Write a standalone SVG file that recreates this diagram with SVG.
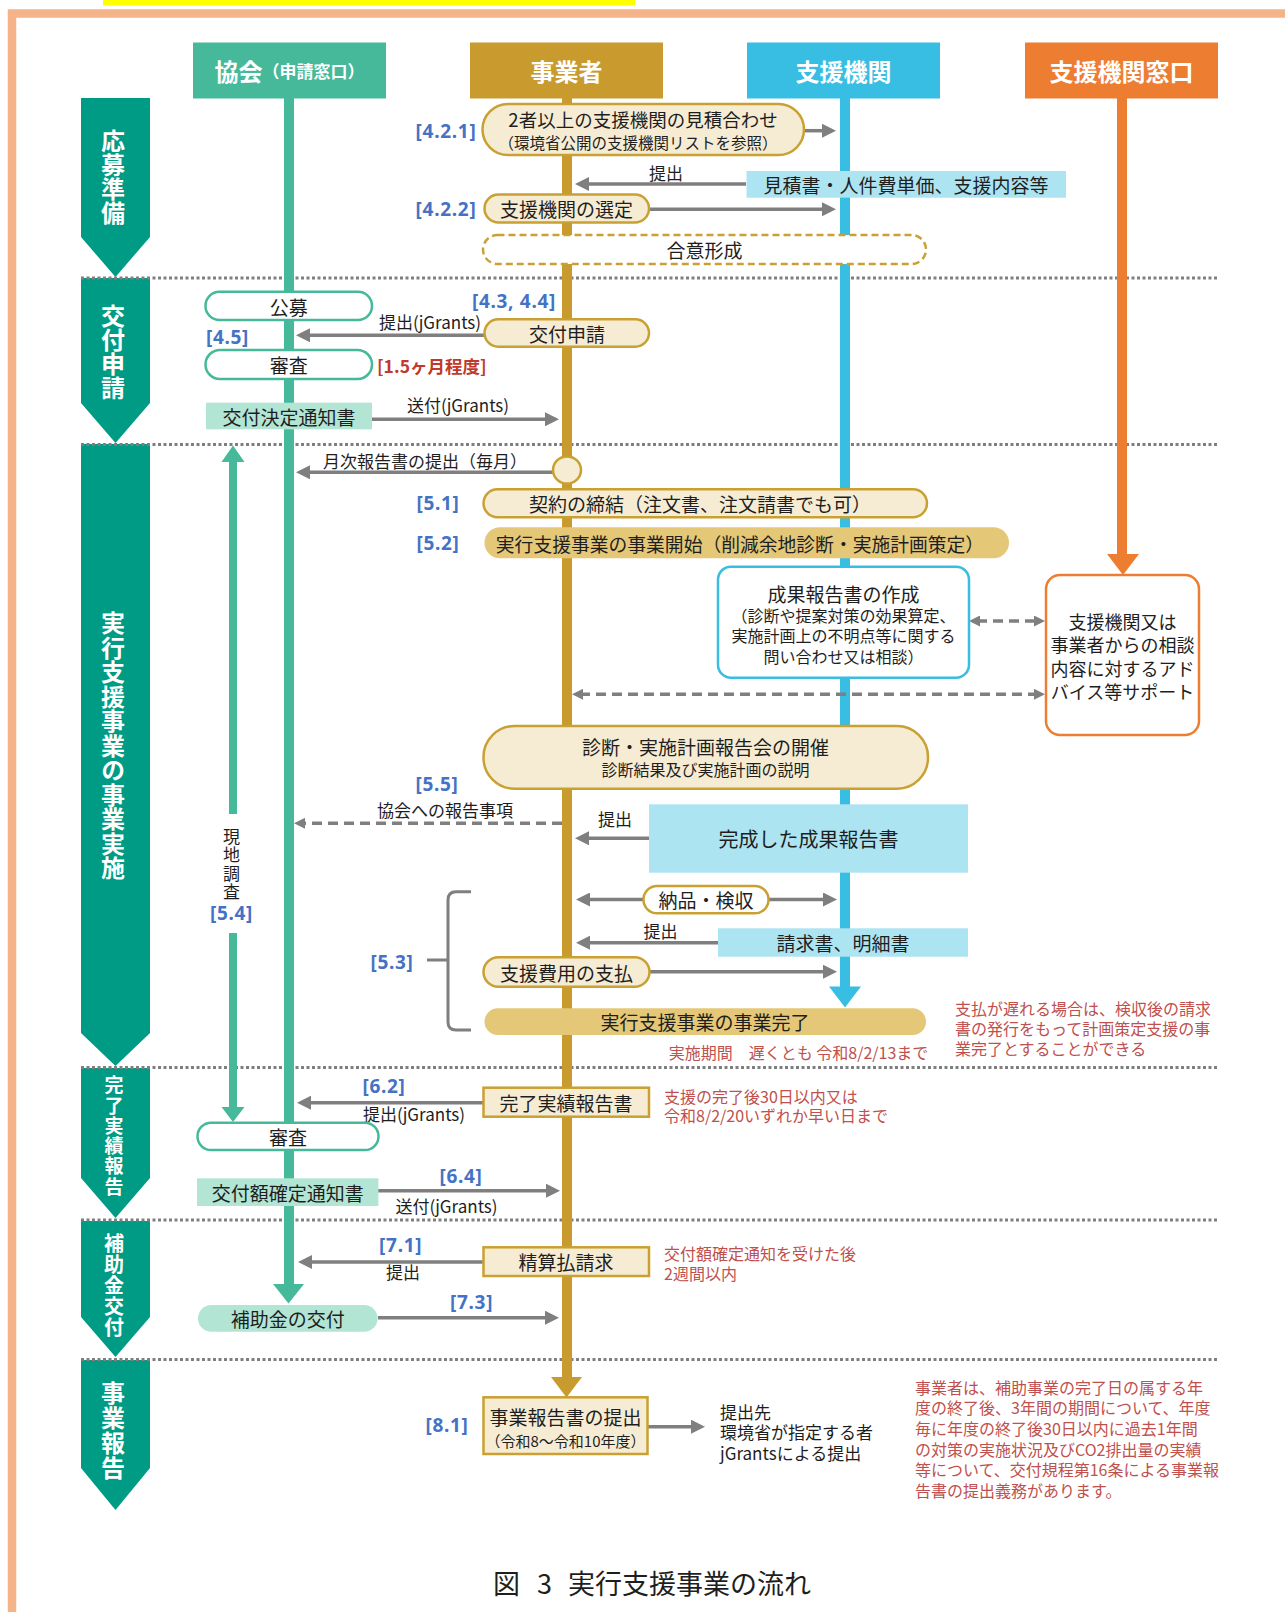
<svg xmlns="http://www.w3.org/2000/svg" width="1285" height="1612" viewBox="0 0 1285 1612">
<defs>
<style>
text{font-family:"Noto Sans CJK JP","Noto Sans",sans-serif;fill:#1e1e1e}
.c{text-anchor:middle;dominant-baseline:central}
.l{dominant-baseline:central}
.hd{font-size:24px;font-weight:bold;fill:#fff}
.vt{writing-mode:vertical-rl;text-orientation:upright}
.ph{font-size:24px;font-weight:bold;fill:#fff}
.lbl{font-family:"Noto Sans","Noto Sans CJK JP",sans-serif;font-size:19px;font-weight:bold;fill:#4472C4;letter-spacing:0.7px;text-anchor:middle;dominant-baseline:central}
.red{fill:#C0504D;font-size:16px}
.f19{font-size:19px}
.f17{font-size:17px}
.f16{font-size:16px}
.pill{fill:#F6ECD3;stroke:#C9A032;stroke-width:2.5}
.pillf{fill:#E4C777}
.tpill{fill:#fff;stroke:#46B99A;stroke-width:2.5}
.mint{fill:#B3E5D5}
.lb{fill:#ADE4F2}
.arr{stroke:#7F7F7F;stroke-width:3.5;fill:none;marker-end:url(#ah)}
.darr{stroke:#7F7F7F;stroke-width:3.5;fill:none;stroke-dasharray:10 6;marker-end:url(#dh)}
.dot{stroke:#7F7F7F;stroke-width:3;stroke-dasharray:3 2.5}
.phase{fill:#009B84}
</style>
<marker id="ah" markerUnits="userSpaceOnUse" markerWidth="14" markerHeight="14" viewBox="0 0 14 14" refX="4" refY="7" orient="auto-start-reverse"><path d="M0,0 L14,7 L0,14 Z" fill="#7F7F7F"/></marker>
<marker id="dh" markerUnits="userSpaceOnUse" markerWidth="11" markerHeight="11" viewBox="0 0 11 11" refX="3" refY="5.5" orient="auto-start-reverse"><path d="M0,0 L11,5.5 L0,11 Z" fill="#7F7F7F"/></marker>
</defs>

<rect width="1285" height="1612" fill="#fff"/>
<rect x="103" y="0" width="532" height="5.5" fill="#FFFF00"/>
<rect x="12" y="13.5" width="1400" height="1700" fill="none" stroke="#F5B38A" stroke-width="8.5"/>

<g id="phases">
<path class="phase" d="M81,98 H150 V237 L115.5,277 L81,237 Z"/>
<path class="phase" d="M81,278 H150 V403 L115.5,443 L81,403 Z"/>
<path class="phase" d="M81,444 H150 V1033 L115.5,1066 L81,1033 Z"/>
<path class="phase" d="M81,1068 H150 V1178 L115.5,1218 L81,1178 Z"/>
<path class="phase" d="M81,1221 H150 V1317 L115.5,1357 L81,1317 Z"/>
<path class="phase" d="M81,1360 H150 V1468 L115.5,1510 L81,1468 Z"/>
<text class="ph vt" x="113" y="129">応募準備</text>
<text class="ph vt" x="113" y="304">交付申請</text>
<text class="ph vt" x="113" y="611" style="letter-spacing:0.5px">実行支援事業の事業実施</text>
<text class="ph vt" x="114" y="1075.5" style="font-size:19px;letter-spacing:1.3px">完了実績報告</text>
<text class="ph vt" x="114" y="1233" style="font-size:20px;letter-spacing:1px">補助金交付</text>
<text class="ph vt" x="113" y="1381" style="letter-spacing:1px">事業報告</text>
</g>

<g id="separators">
<line class="dot" x1="81" y1="278" x2="1218" y2="278"/>
<line class="dot" x1="81" y1="444.5" x2="1218" y2="444.5"/>
<line class="dot" x1="81" y1="1067.5" x2="1218" y2="1067.5"/>
<line class="dot" x1="81" y1="1220" x2="1218" y2="1220"/>
<line class="dot" x1="81" y1="1359.5" x2="1218" y2="1359.5"/>
</g>

<g id="lifelines">
<line x1="289" y1="98" x2="289" y2="1286" stroke="#46B99A" stroke-width="10"/>
<polygon points="273,1284 304,1284 288.5,1303.5" fill="#46B99A"/>
<line x1="567" y1="98" x2="567" y2="1379" stroke="#C99A2E" stroke-width="10"/>
<polygon points="551,1377 582,1377 566.5,1397.5" fill="#C99A2E"/>
<line x1="845" y1="98" x2="845" y2="989" stroke="#38BDE3" stroke-width="10"/>
<polygon points="829,986.5 861,986.5 845,1007.5" fill="#38BDE3"/>
<line x1="1122" y1="98" x2="1122" y2="556" stroke="#ED7D31" stroke-width="10"/>
<polygon points="1107,554 1139,554 1123,575" fill="#ED7D31"/>
</g>

<g id="h-kyokai"><rect x="193" y="42.5" width="193" height="56" fill="#46B99A"/><text class="c hd" x="289.5" y="70">協会<tspan style="font-size:17px">（申請窓口）</tspan></text></g>
<g id="h-jigyosha"><rect x="470" y="42.5" width="193" height="56" fill="#C99A2E"/><text class="c hd" x="566.5" y="70">事業者</text></g>
<g id="h-shien"><rect x="747" y="42.5" width="193" height="56" fill="#38BDE3"/><text class="c hd" x="843.5" y="70">支援機関</text></g>
<g id="h-madoguchi"><rect x="1025" y="42.5" width="193" height="56" fill="#ED7D31"/><text class="c hd" x="1121.5" y="70">支援機関窓口</text></g>

<g id="connectors">
<line class="arr" x1="804" y1="130.7" x2="826" y2="130.7"/>
<line class="arr" x1="746" y1="184" x2="585" y2="184"/>
<line class="arr" x1="649" y1="209.3" x2="826" y2="209.3"/>
<line class="arr" x1="484" y1="335.3" x2="306" y2="335.3"/>
<line class="arr" x1="372" y1="419.3" x2="549" y2="419.3"/>
<line class="arr" x1="553" y1="472.3" x2="306" y2="472.3"/>
<line class="arr" x1="649" y1="838.3" x2="585" y2="838.3"/>
<line class="arr" x1="643" y1="899.5" x2="586" y2="899.5"/>
<line class="arr" x1="768" y1="899.5" x2="827" y2="899.5"/>
<line class="arr" x1="718" y1="942.7" x2="586" y2="942.7"/>
<line class="arr" x1="649" y1="971.7" x2="827" y2="971.7"/>
<line class="arr" x1="483" y1="1102.7" x2="307" y2="1102.7"/>
<line class="arr" x1="378" y1="1190.7" x2="550" y2="1190.7"/>
<line class="arr" x1="483" y1="1262" x2="308" y2="1262"/>
<line class="arr" x1="378" y1="1317.7" x2="549" y2="1317.7"/>
<line class="arr" x1="647.5" y1="1426.7" x2="695" y2="1426.7"/>
<line class="darr" x1="562" y1="823.3" x2="302" y2="823.3"/>
<line class="darr" x1="977" y1="621" x2="1037" y2="621" style="marker-start:url(#dh)"/>
<line class="darr" x1="580" y1="694.3" x2="1037" y2="694.3" style="marker-start:url(#dh)"/>
<path d="M471,891.7 H456 Q448,891.7 448,900 V1022 Q448,1030 456,1030 H471 M448,960 H427" fill="none" stroke="#7F7F7F" stroke-width="3"/>
<line x1="233" y1="814" x2="233" y2="459" stroke="#46B99A" stroke-width="8"/>
<polygon points="221.5,462 244.5,462 233,445.5" fill="#46B99A"/>
<line x1="233" y1="933" x2="233" y2="1109" stroke="#46B99A" stroke-width="8"/>
<polygon points="221.5,1107 244.5,1107 233,1122" fill="#46B99A"/>
</g>

<g id="labels">
<text class="c f17" x="666" y="172.5">提出</text>
<text class="c f17" x="430" y="321.7">提出(jGrants)</text>
<text class="c f17" x="458" y="404">送付(jGrants)</text>
<text class="c f17" x="425" y="460.7">月次報告書の提出（毎月）</text>
<text class="c f17" x="445" y="809.3">協会への報告事項</text>
<text class="c f17" x="615" y="818.3">提出</text>
<text class="c f17" x="660.5" y="930">提出</text>
<text class="c f17" x="414" y="1113.3">提出(jGrants)</text>
<text class="c f17" x="446.5" y="1205">送付(jGrants)</text>
<text class="c f17" x="403" y="1271.7">提出</text>
<text class="vt f17" x="231.5" y="828.2" style="letter-spacing:1.3px">現地調査</text>
<text class="lbl" x="446" y="130.7">[4.2.1]</text>
<text class="lbl" x="446" y="209">[4.2.2]</text>
<text class="lbl" x="514" y="300.7">[4.3, 4.4]</text>
<text class="lbl" x="227.5" y="337.3">[4.5]</text>
<text class="l" x="377" y="365" style="font-size:17.5px;font-weight:bold;fill:#C0392B">[1.5ヶ月程度]</text>
<text class="lbl" x="438" y="502.7">[5.1]</text>
<text class="lbl" x="438" y="543.3">[5.2]</text>
<text class="lbl" x="437" y="784">[5.5]</text>
<text class="lbl" x="231.5" y="912.7">[5.4]</text>
<text class="lbl" x="392" y="961.7">[5.3]</text>
<text class="lbl" x="384" y="1086">[6.2]</text>
<text class="lbl" x="461" y="1176">[6.4]</text>
<text class="lbl" x="400.7" y="1245">[7.1]</text>
<text class="lbl" x="471.6" y="1301.7">[7.3]</text>
<text class="lbl" x="447" y="1425">[8.1]</text>
</g>

<g id="n-mitsumori"><rect class="pill" x="482.5" y="104" width="321.5" height="51" rx="25.5"/><text class="c" x="643" y="118.5" style="font-size:18.5px">2者以上の支援機関の見積合わせ</text><text class="c" x="638" y="141.7" style="font-size:15.5px">（環境省公開の支援機関リストを参照）</text></g>
<g id="n-mitsumorisho"><rect class="lb" x="746.5" y="171" width="319.5" height="26.7"/><text class="c f19" x="906" y="184">見積書・人件費単価、支援内容等</text></g>
<g id="n-sentei"><rect class="pill" x="484.5" y="194.5" width="164.5" height="28" rx="14"/><text class="c f19" x="566.5" y="208.5">支援機関の選定</text></g>
<g id="n-goi"><rect x="483" y="235" width="443" height="29" rx="14.5" fill="#fff" stroke="#C9A032" stroke-width="2.5" stroke-dasharray="7 4"/><text class="c f19" x="704.5" y="249.5">合意形成</text></g>
<g id="n-koubo"><rect class="tpill" x="205.5" y="291.7" width="166.5" height="28.3" rx="14"/><text class="c f19" x="288.7" y="306">公募</text></g>
<g id="n-shinsei"><rect class="pill" x="484.5" y="319.3" width="164.5" height="27.4" rx="13.7"/><text class="c f19" x="567" y="333">交付申請</text></g>
<g id="n-shinsa1"><rect class="tpill" x="205.5" y="350" width="166.5" height="29" rx="14.5"/><text class="c f19" x="288.7" y="364.5">審査</text></g>
<g id="n-kettei"><rect class="mint" x="206" y="402.7" width="166" height="26.6"/><text class="c f19" x="289" y="416">交付決定通知書</text></g>
<g id="n-circle"><ellipse cx="567" cy="470" rx="14" ry="13.5" fill="#F6ECD3" stroke="#C9A032" stroke-width="2.5"/></g>
<g id="n-keiyaku"><rect class="pill" x="483.5" y="489.3" width="443.5" height="28" rx="14"/><text class="c f19" x="700" y="503">契約の締結（注文書、注文請書でも可）</text></g>
<g id="n-kaishi"><rect class="pillf" x="484.5" y="527.3" width="524.5" height="31" rx="15.5"/><text class="c" x="740" y="543" style="font-size:18.8px">実行支援事業の事業開始（削減余地診断・実施計画策定）</text></g>
<g id="n-seika"><rect x="718" y="566.7" width="251" height="111" rx="13" fill="#fff" stroke="#38BDE3" stroke-width="2.5"/><text class="c f19" x="843.5" y="593.3">成果報告書の作成</text><text class="c f16" x="843.5" y="615">（診断や提案対策の効果算定、</text><text class="c f16" x="843.5" y="635">実施計画上の不明点等に関する</text><text class="c f16" x="843.5" y="656">問い合わせ又は相談）</text></g>
<g id="n-support"><rect x="1046" y="575" width="153" height="160" rx="14" fill="#fff" stroke="#ED7D31" stroke-width="2.5"/><text class="c" x="1122.5" y="621" style="font-size:18px">支援機関又は</text><text class="c" x="1122.5" y="644.3" style="font-size:18px">事業者からの相談</text><text class="c" x="1122.5" y="668.3" style="font-size:18px">内容に対するアド</text><text class="c" x="1122.5" y="691" style="font-size:18px">バイス等サポート</text></g>
<g id="n-houkokukai"><rect class="pill" x="483.5" y="726" width="444.5" height="62.7" rx="31"/><text class="c f19" x="705.5" y="746.7">診断・実施計画報告会の開催</text><text class="c f16" x="705.5" y="769.3">診断結果及び実施計画の説明</text></g>
<g id="n-kansei"><rect class="lb" x="649" y="804.3" width="319" height="68.4"/><text class="c" x="808.5" y="838" style="font-size:20px">完成した成果報告書</text></g>
<g id="n-nouhin"><rect class="pill" x="643.5" y="886" width="125" height="27.3" rx="13.6" style="fill:#fff"/><text class="c f19" x="706" y="899.7">納品・検収</text></g>
<g id="n-seikyusho"><rect class="lb" x="718" y="928.3" width="250" height="28.4"/><text class="c f19" x="843" y="942.5">請求書、明細書</text></g>
<g id="n-shiharai"><rect class="pill" x="483.5" y="957.3" width="166" height="29.4" rx="14.7"/><text class="c f19" x="566.5" y="972">支援費用の支払</text></g>
<g id="n-kanryo"><rect class="pillf" x="484.5" y="1008.3" width="441.5" height="26.7" rx="13.3"/><text class="c f19" x="705" y="1021.7">実行支援事業の事業完了</text></g>
<g id="n-jisseki"><rect class="pill" x="483.5" y="1087.7" width="165.5" height="29"/><text class="c f19" x="566" y="1102">完了実績報告書</text></g>
<g id="n-shinsa2"><rect class="tpill" x="197.5" y="1122.7" width="181" height="27.3" rx="13.6"/><text class="c f19" x="288" y="1136.4">審査</text></g>
<g id="n-kakutei"><rect class="mint" x="197" y="1178.3" width="181.4" height="27.7"/><text class="c f19" x="287.7" y="1192">交付額確定通知書</text></g>
<g id="n-seisan"><rect class="pill" x="483.5" y="1247.3" width="165.5" height="28.7"/><text class="c f19" x="566" y="1261.7">精算払請求</text></g>
<g id="n-hojokin"><rect class="mint" x="198" y="1305" width="179.6" height="26.7" rx="13.3"/><text class="c f19" x="287.8" y="1318.3">補助金の交付</text></g>
<g id="n-jigyohoukoku"><rect class="pill" x="483.5" y="1397.3" width="164" height="56.7"/><text class="c f19" x="565.5" y="1416.7">事業報告書の提出</text><text class="c" x="565.5" y="1440" style="font-size:15px">（令和8～令和10年度）</text></g>
<g id="n-teishutsusaki"><text class="l f17" x="720" y="1411">提出先</text><text class="l f17" x="720" y="1431">環境省が指定する者</text><text class="l f17" x="720" y="1452.6">jGrantsによる提出</text></g>

<g id="notes">
<text class="c red" x="798.5" y="1051.7">実施期間　遅くとも 令和8/2/13まで</text>
<text class="l red"><tspan x="955" y="1007.7">支払が遅れる場合は、検収後の請求</tspan><tspan x="955" y="1027.8">書の発行をもって計画策定支援の事</tspan><tspan x="955" y="1048.2">業完了とすることができる</tspan></text>
<text class="l red"><tspan x="664" y="1096">支援の完了後30日以内又は</tspan><tspan x="664" y="1115.3">令和8/2/20いずれか早い日まで</tspan></text>
<text class="l red"><tspan x="664" y="1252.7">交付額確定通知を受けた後</tspan><tspan x="664" y="1272.7">2週間以内</tspan></text>
<text class="l red"><tspan x="915" y="1386.7">事業者は、補助事業の完了日の属する年</tspan><tspan x="915" y="1407.3">度の終了後、3年間の期間について、年度</tspan><tspan x="915" y="1427.9">毎に年度の終了後30日以内に過去1年間</tspan><tspan x="915" y="1448.5">の対策の実施状況及びCO2排出量の実績</tspan><tspan x="915" y="1469.1">等について、交付規程第16条による事業報</tspan><tspan x="915" y="1489.7">告書の提出義務があります。</tspan></text>
</g>

<text class="l" y="1581.7" style="font-size:27px"><tspan x="493">図</tspan><tspan x="537">3</tspan><tspan x="568">実行支援事業の流れ</tspan></text>
</svg>
